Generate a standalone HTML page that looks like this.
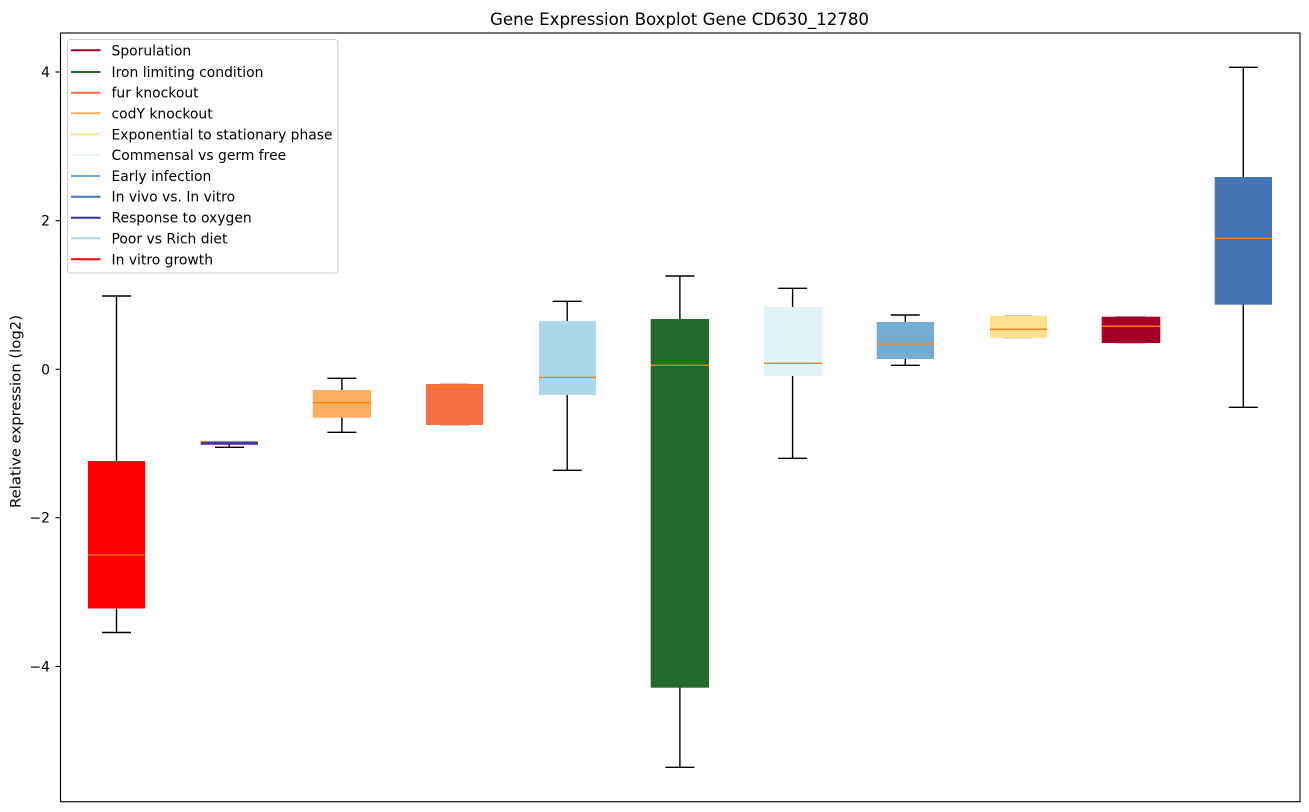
<!DOCTYPE html>
<html><head><meta charset="utf-8"><style>
html,body{margin:0;padding:0;background:#fff;}
svg{display:block;}
text{font-family:"DejaVu Sans","Liberation Sans",sans-serif;fill:#000;}
</style></head><body>
<svg width="1309" height="812" viewBox="0 0 1309 812" xmlns="http://www.w3.org/2000/svg">
<rect x="0" y="0" width="1309" height="812" fill="#fff"/>
<text x="679.5" y="25" font-size="16.7" text-anchor="middle" textLength="379" lengthAdjust="spacingAndGlyphs">Gene Expression Boxplot Gene CD630_12780</text>

<!-- whiskers and caps -->
<g stroke="#000" stroke-width="1.4" fill="none">
<line x1="116.5" y1="296" x2="116.5" y2="632.5"/><line x1="102" y1="296" x2="131" y2="296"/><line x1="102" y1="632.5" x2="131" y2="632.5"/>
<line x1="229.2" y1="441" x2="229.2" y2="447.3"/><line x1="215" y1="447.3" x2="244" y2="447.3"/>
<line x1="341.9" y1="378.3" x2="341.9" y2="432.3"/><line x1="327.4" y1="378.3" x2="356.4" y2="378.3"/><line x1="327.4" y1="432.3" x2="356.4" y2="432.3"/>
<line x1="567.2" y1="301.3" x2="567.2" y2="470.3"/><line x1="552.7" y1="301.3" x2="581.7" y2="301.3"/><line x1="552.7" y1="470.3" x2="581.7" y2="470.3"/>
<line x1="679.9" y1="276" x2="679.9" y2="767.3"/><line x1="665.4" y1="276" x2="694.4" y2="276"/><line x1="665.4" y1="767.3" x2="694.4" y2="767.3"/>
<line x1="792.6" y1="288.3" x2="792.6" y2="458.3"/><line x1="778.1" y1="288.3" x2="807.1" y2="288.3"/><line x1="778.1" y1="458.3" x2="807.1" y2="458.3"/>
<line x1="905.3" y1="315" x2="905.3" y2="365.3"/><line x1="890.8" y1="315" x2="919.8" y2="315"/><line x1="890.8" y1="365.3" x2="919.8" y2="365.3"/>
<line x1="1243.3" y1="67.3" x2="1243.3" y2="407.3"/><line x1="1228.8" y1="67.3" x2="1257.8" y2="67.3"/><line x1="1228.8" y1="407.3" x2="1257.8" y2="407.3"/>
</g>
<g stroke="#bbb" stroke-width="1.4">
<line x1="440" y1="384" x2="469" y2="384"/><line x1="440" y1="425" x2="469" y2="425"/>
<line x1="1003.4" y1="315.7" x2="1032.4" y2="315.7"/><line x1="1003.4" y1="337.7" x2="1032.4" y2="337.7"/>
<line x1="1116.1" y1="316.7" x2="1145.1" y2="316.7"/><line x1="1116.1" y1="343" x2="1145.1" y2="343"/>
</g>

<!-- boxes -->
<rect x="88" y="461" width="57" height="147.5" fill="#ff0000"/>
<rect x="200.7" y="441" width="57.3" height="3.7" fill="#313695"/>
<rect x="312.7" y="390" width="58.3" height="27.7" fill="#fdae61"/>
<rect x="426" y="384" width="57" height="41" fill="#f46d43"/>
<rect x="539" y="321" width="57" height="74" fill="#abd9e9"/>
<rect x="650.7" y="319" width="58.3" height="368.7" fill="#236b2d"/>
<rect x="764" y="307" width="58" height="69" fill="#e0f3f8"/>
<rect x="876.7" y="322" width="57.3" height="37" fill="#74add1"/>
<rect x="990" y="315.7" width="57" height="22" fill="#fee090"/>
<rect x="1101.7" y="316.7" width="58.6" height="26.3" fill="#a50026"/>
<rect x="1214.7" y="177" width="57.3" height="127.7" fill="#4575b4"/>

<!-- medians -->
<g stroke="#ff7f0e" stroke-width="1.3">
<line x1="88" y1="555" x2="145" y2="555"/>
<line x1="200.7" y1="441.5" x2="258" y2="441.5"/>
<line x1="312.7" y1="402.7" x2="371" y2="402.7"/>
<line x1="426" y1="387" x2="483" y2="387"/>
<line x1="539" y1="377.3" x2="596" y2="377.3"/>
<line x1="650.7" y1="365.3" x2="709" y2="365.3"/>
<line x1="764" y1="363.3" x2="822" y2="363.3"/>
<line x1="876.7" y1="344" x2="934" y2="344"/>
<line x1="990" y1="329.3" x2="1047" y2="329.3"/>
<line x1="1101.7" y1="326.3" x2="1160.3" y2="326.3"/>
<line x1="1214.7" y1="238.3" x2="1272" y2="238.3"/>
</g>

<!-- axes frame -->
<rect x="60.5" y="33" width="1239.5" height="768.7" fill="none" stroke="#000" stroke-width="1.1"/>

<!-- y ticks -->
<g stroke="#000" stroke-width="1.1">
<line x1="55.5" y1="72" x2="60.5" y2="72"/>
<line x1="55.5" y1="220.7" x2="60.5" y2="220.7"/>
<line x1="55.5" y1="369.3" x2="60.5" y2="369.3"/>
<line x1="55.5" y1="517.7" x2="60.5" y2="517.7"/>
<line x1="55.5" y1="666.5" x2="60.5" y2="666.5"/>
</g>
<g font-size="13.9" text-anchor="end">
<text x="50" y="77">4</text>
<text x="50" y="225.7">2</text>
<text x="50" y="374.3">0</text>
<text x="50" y="522.7">−2</text>
<text x="50" y="671.5">−4</text>
</g>
<text transform="translate(20.5,411.5) rotate(-90)" font-size="13.9" text-anchor="middle" textLength="193" lengthAdjust="spacingAndGlyphs">Relative expression (log2)</text>

<!-- legend -->
<rect x="67.5" y="39.5" width="270.5" height="233.5" rx="3" ry="3" fill="#fff" fill-opacity="0.8" stroke="#ccc" stroke-width="1"/>
<g stroke-width="2">
<line x1="71" y1="50.3" x2="100.5" y2="50.3" stroke="#a50026"/>
<line x1="71" y1="72" x2="100.5" y2="72" stroke="#236b2d"/>
<line x1="71" y1="92.7" x2="100.5" y2="92.7" stroke="#f46d43"/>
<line x1="71" y1="113.3" x2="100.5" y2="113.3" stroke="#fdae61"/>
<line x1="71" y1="134.3" x2="100.5" y2="134.3" stroke="#fee090"/>
<line x1="71" y1="155" x2="100.5" y2="155" stroke="#e0f3f8"/>
<line x1="71" y1="176" x2="100.5" y2="176" stroke="#74add1"/>
<line x1="71" y1="196.7" x2="100.5" y2="196.7" stroke="#4575b4"/>
<line x1="71" y1="217.7" x2="100.5" y2="217.7" stroke="#313695"/>
<line x1="71" y1="238.3" x2="100.5" y2="238.3" stroke="#abd9e9"/>
<line x1="71" y1="259.3" x2="100.5" y2="259.3" stroke="#ff0000"/>
</g>
<g font-size="13.9">
<text x="111.5" y="55.3">Sporulation</text>
<text x="111.5" y="77">Iron limiting condition</text>
<text x="111.5" y="97.7">fur knockout</text>
<text x="111.5" y="118.3">codY knockout</text>
<text x="111.5" y="139.3" textLength="221" lengthAdjust="spacingAndGlyphs">Exponential to stationary phase</text>
<text x="111.5" y="160">Commensal vs germ free</text>
<text x="111.5" y="181">Early infection</text>
<text x="111.5" y="201.7">In vivo vs. In vitro</text>
<text x="111.5" y="222.7">Response to oxygen</text>
<text x="111.5" y="243.3">Poor vs Rich diet</text>
<text x="111.5" y="264.3">In vitro growth</text>
</g>
</svg>
</body></html>
